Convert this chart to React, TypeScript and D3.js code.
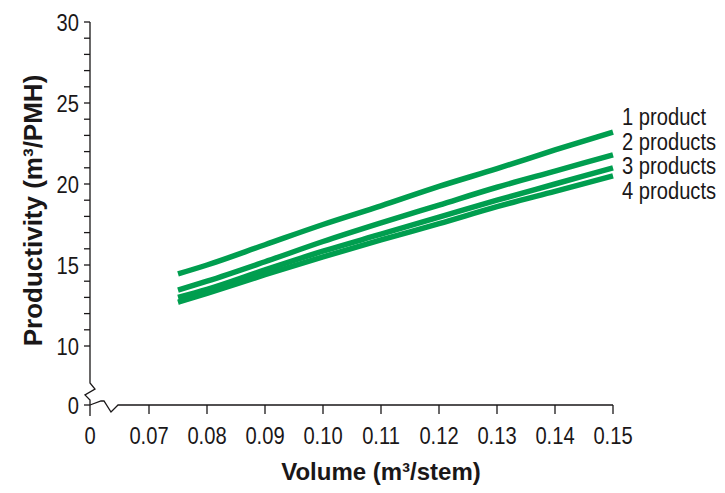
import React, { useEffect, useRef } from "react";
import * as d3 from "d3";

// volume (m3/stem) where the curves were read
const volumes = [0.075, 0.08, 0.09, 0.1, 0.11, 0.12, 0.13, 0.14, 0.15];

// productivity (m3/PMH)
const oneProduct = [14.45, 15.0, 16.25, 17.5, 18.65, 19.85, 20.95, 22.1, 23.2];
const twoProducts = [13.45, 14.0, 15.2, 16.45, 17.6, 18.7, 19.8, 20.8, 21.8];
const threeProducts = [13.0, 13.5, 14.7, 15.85, 16.9, 17.95, 19.0, 20.0, 21.0];
const fourProducts = [12.7, 13.25, 14.4, 15.5, 16.55, 17.55, 18.6, 19.55, 20.5];

const seriesNames = ["1 product", "2 products", "3 products", "4 products"];
const xTicks = [0, 0.07, 0.08, 0.09, 0.1, 0.11, 0.12, 0.13, 0.14, 0.15];
const yTicks = [0, 10, 15, 20, 25, 30];

const W = 725;
const H = 493;
const GREEN = "#009e4f";
const INK = "#1a1718";
const FONT = "'Liberation Sans', Arial, sans-serif";
// no narrow face installed, so squeeze the regular one
const NARROW = 0.84;

export default function App() {
  const ref = useRef<SVGSVGElement>(null);

  useEffect(() => {
    const svg = d3.select(ref.current);
    svg.selectAll("*").remove();

    // broken axes: 0..0.07 and 0..10 are squeezed
    const x = d3.scaleLinear().domain([0, 0.07, 0.15]).range([90, 149, 613]);
    const y = d3.scaleLinear().domain([0, 10, 30]).range([405, 346, 22]);

    const x0 = x(0);
    const y0 = y(0);

    // y axis with zigzag break
    svg
      .append("path")
      .attr(
        "d",
        `M${x0},${y(30)}V${y0 - 22}L${x0 + 5},${y0 - 16}L${x0 - 5},${y0 - 10}L${x0},${y0 - 5}V${y0 + 11}`
      )
      .attr("fill", "none")
      .attr("stroke", INK)
      .attr("stroke-width", 1.3);

    // x axis with zigzag break
    svg
      .append("path")
      .attr(
        "d",
        `M${x0},${y0}L${x0 + 11},${y0 - 4}L${x0 + 14},${y0 - 4}L${x0 + 21},${y0 + 7}L${x0 + 27},${y0 + 1}L${x0 + 28},${y0}H${x(0.15)}`
      )
      .attr("fill", "none")
      .attr("stroke", INK)
      .attr("stroke-width", 1.3);

    // y ticks, minor every 1 between 10 and 30
    const yMinor = d3.range(10, 31, 1).concat([0]);
    svg
      .append("g")
      .selectAll("line")
      .data(yMinor)
      .join("line")
      .attr("x1", x0 - 6)
      .attr("x2", x0)
      .attr("y1", (d) => y(d))
      .attr("y2", (d) => y(d))
      .attr("stroke", INK)
      .attr("stroke-width", 1.3);

    svg
      .append("g")
      .selectAll("text")
      .data(yTicks)
      .join("text")
      .attr("transform", (d) => `translate(${x0 - 11},${y(d) + 8.5}) scale(${NARROW},1)`)
      .attr("text-anchor", "end")
      .style("font-family", FONT)
      .style("font-size", "24px")
      .style("fill", INK)
      .text((d) => String(d));

    // x ticks
    svg
      .append("g")
      .selectAll("line")
      .data(xTicks.filter((d) => d > 0))
      .join("line")
      .attr("x1", (d) => x(d))
      .attr("x2", (d) => x(d))
      .attr("y1", y0)
      .attr("y2", y0 + 9)
      .attr("stroke", INK)
      .attr("stroke-width", 1.3);

    svg
      .append("g")
      .selectAll("text")
      .data(xTicks)
      .join("text")
      .attr("transform", (d) => `translate(${x(d)},${y0 + 39}) scale(${NARROW},1)`)
      .attr("text-anchor", "middle")
      .style("font-family", FONT)
      .style("font-size", "24px")
      .style("fill", INK)
      .text((d) => (d === 0 ? "0" : d.toFixed(2)));

    // curves
    const allSeries = [oneProduct, twoProducts, threeProducts, fourProducts];
    const line = d3
      .line<number>()
      .x((_, i) => x(volumes[i]))
      .y((d) => y(d))
      .curve(d3.curveMonotoneX);

    svg
      .append("g")
      .selectAll("path")
      .data(allSeries)
      .join("path")
      .attr("d", (d) => line(d))
      .attr("fill", "none")
      .attr("stroke", GREEN)
      .attr("stroke-width", 5.5);

    // series labels to the right
    svg
      .append("g")
      .selectAll("text")
      .data(seriesNames)
      .join("text")
      .attr("transform", (_, i) => `translate(${x(0.15) + 9},${125 + i * 24.5}) scale(${NARROW},1)`)
      .style("font-family", FONT)
      .style("font-size", "24px")
      .style("fill", INK)
      .text((d) => d);

    // axis titles
    svg
      .append("text")
      .attr("x", (x(0.07) + x(0.15)) / 2)
      .attr("y", 480)
      .attr("text-anchor", "middle")
      .style("font-family", FONT)
      .style("font-weight", "bold")
      .style("font-size", "24px")
      .style("fill", INK)
      .text("Volume (m³/stem)");

    svg
      .append("text")
      .attr("transform", `translate(42,${(y(30) + y0) / 2 - 3}) rotate(-90)`)
      .attr("text-anchor", "middle")
      .style("font-family", FONT)
      .style("font-weight", "bold")
      .style("font-size", "26px")
      .style("fill", INK)
      .text("Productivity (m³/PMH)");
  }, []);

  return (
    <div style={{ position: "absolute", left: 0, top: 0 }}>
      <svg ref={ref} width={W} height={H} style={{ display: "block", background: "#fff" }} />
    </div>
  );
}
